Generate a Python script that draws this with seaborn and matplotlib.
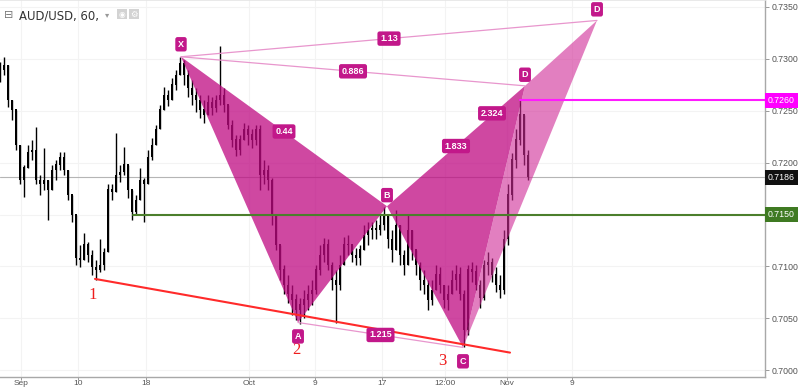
import numpy as np
import pandas as pd
import matplotlib
matplotlib.use("Agg")
import matplotlib.pyplot as plt
import seaborn as sns
from matplotlib.patches import Polygon, FancyBboxPatch

# ---------------- data ----------------
first_open = 0.7285
highs = [0.7297,0.7302,0.7275,0.7260,0.7246,0.7217,0.7198,0.7217,0.7222,0.7234,
         0.7188,0.7214,0.7183,0.7198,0.7203,0.7210,0.7210,0.7191,0.7169,0.7140,
         0.7121,0.7132,0.7124,0.7116,0.7106,0.7126,0.7118,0.7179,0.7179,0.7229,
         0.7198,0.7215,0.7191,0.7166,0.7169,0.7195,0.7185,0.7212,0.7224,0.7236,
         0.7256,0.7273,0.7270,0.7282,0.7289,0.7302,0.7299,0.7289,0.7280,0.7272,
         0.7265,0.7260,0.7265,0.7263,0.7265,0.7312,0.7272,0.7256,0.7241,0.7227,
         0.7227,0.7238,0.7236,0.7232,0.7236,0.7236,0.7203,0.7198,0.7185,0.7150,
         0.7121,0.7101,0.7092,0.7082,0.7073,0.7070,0.7077,0.7082,0.7087,0.7101,
         0.7121,0.7127,0.7126,0.7104,0.7097,0.7111,0.7128,0.7130,0.7121,0.7118,
         0.7121,0.7140,0.7143,0.7143,0.7145,0.7150,0.7157,0.7150,0.7135,0.7154,
         0.7130,0.7116,0.7151,0.7135,0.7116,0.7104,0.7097,0.7087,0.7087,0.7101,
         0.7099,0.7082,0.7082,0.7097,0.7101,0.7099,0.7077,0.7101,0.7104,0.7101,
         0.7087,0.7106,0.7114,0.7108,0.7099,0.7092,0.7135,0.7179,0.7209,0.7232,
         0.7260,0.7246,0.7212]
lows = [0.7278,0.7284,0.7254,0.7241,0.7212,0.7179,0.7167,0.7198,0.7203,0.7179,
        0.7169,0.7174,0.7145,0.7176,0.7183,0.7193,0.7188,0.7164,0.7143,0.7101,
        0.7099,0.7108,0.7104,0.7092,0.7087,0.7095,0.7097,0.7121,0.7164,0.7174,
        0.7181,0.7188,0.7166,0.7145,0.7150,0.7169,0.7143,0.7183,0.7203,0.7217,
        0.7233,0.7251,0.7255,0.7262,0.7270,0.7284,0.7275,0.7263,0.7256,0.7249,
        0.7243,0.7238,0.7246,0.7246,0.7249,0.7256,0.7249,0.7232,0.7215,0.7206,
        0.7207,0.7222,0.7217,0.7214,0.7217,0.7174,0.7179,0.7174,0.7140,0.7116,
        0.7087,0.7073,0.7065,0.7053,0.7048,0.7045,0.7050,0.7058,0.7063,0.7073,
        0.7092,0.7104,0.7097,0.7077,0.7046,0.7077,0.7104,0.7111,0.7104,0.7101,
        0.7101,0.7116,0.7121,0.7126,0.7126,0.7130,0.7135,0.7118,0.7104,0.7121,
        0.7101,0.7092,0.7116,0.7106,0.7092,0.7077,0.7073,0.7058,0.7063,0.7077,
        0.7074,0.7060,0.7058,0.7073,0.7077,0.7068,0.7022,0.7034,0.7085,0.7077,
        0.7060,0.7068,0.7092,0.7085,0.7075,0.7070,0.7073,0.7121,0.7164,0.7195,
        0.7217,0.7198,0.7183]
closes = [0.7289,0.7294,0.7260,0.7251,0.7217,0.7183,0.7195,0.7210,0.7212,0.7183,
          0.7179,0.7183,0.7174,0.7193,0.7198,0.7205,0.7193,0.7169,0.7150,0.7108,
          0.7106,0.7121,0.7111,0.7099,0.7097,0.7101,0.7114,0.7174,0.7172,0.7188,
          0.7191,0.7198,0.7174,0.7152,0.7164,0.7183,0.7179,0.7205,0.7217,0.7232,
          0.7251,0.7265,0.7260,0.7275,0.7284,0.7296,0.7284,0.7272,0.7265,0.7260,
          0.7251,0.7246,0.7258,0.7253,0.7260,0.7265,0.7256,0.7236,0.7222,0.7212,
          0.7222,0.7232,0.7227,0.7222,0.7232,0.7188,0.7193,0.7183,0.7150,0.7121,
          0.7097,0.7082,0.7073,0.7068,0.7058,0.7063,0.7068,0.7073,0.7077,0.7097,
          0.7111,0.7121,0.7101,0.7087,0.7082,0.7101,0.7121,0.7121,0.7111,0.7108,
          0.7116,0.7130,0.7135,0.7137,0.7135,0.7140,0.7150,0.7126,0.7116,0.7140,
          0.7111,0.7101,0.7135,0.7116,0.7101,0.7087,0.7082,0.7068,0.7077,0.7092,
          0.7082,0.7068,0.7073,0.7087,0.7092,0.7073,0.7039,0.7097,0.7095,0.7082,
          0.7070,0.7101,0.7104,0.7092,0.7082,0.7077,0.7126,0.7169,0.7203,0.7222,
          0.7246,0.7207,0.7186]

tick_pos = [5.25, 19.5, 36.5, 62.25, 78.75, 95.5, 111.25, 126.75, 143.0]
tick_labels = ["Sep", "10", "18", "Oct", "9", "17", "12:00", "Nov", "9"]
price_ticks = [0.7000, 0.7050, 0.7100, 0.7150, 0.7200, 0.7250, 0.7300, 0.7350]

pattern_names = ["X", "A", "B", "C", "D", "D"]
pattern_x = [45.25, 74.5, 96.75, 115.75, 131.25, 149.25]
pattern_y = [0.7302, 0.7046, 0.7158, 0.7022, 0.7274, 0.7337]
ratio_labels = ["0.44", "1.215", "1.833", "2.324", "0.886", "1.13"]
ratio_pairs = [(0, 2), (1, 3), (2, 4), (2, 5), (0, 4), (0, 5)]

trend_x = [23.75, 127.5]
trend_y = [0.7088, 0.7017]
wave_labels = ["1", "2", "3"]
wave_x = [23.25, 74.0, 110.5]
wave_y = [0.70725, 0.70195, 0.70090]

resist_level, resist_start = 0.7260, 130.0
support_level, support_start = 0.7150, 33.25
last_price = 0.7186

# ---------------- style ----------------
sns.set_theme(style="white")
plt.rcParams['font.family'] = ['Liberation Sans', 'DejaVu Sans']

W, H = 800, 391
fig = plt.figure(figsize=(W / 100, H / 100), dpi=100)
ax = fig.add_axes([0, 14 / H, 765 / W, 377 / H])
ax.set_xlim(0, 191.25)
ax.set_ylim(0.69935, 0.73567)

# grid
for tp in tick_pos:
    ax.axvline(tp, color="#f3f3f3", lw=0.8, zorder=0)
for pt in price_ticks:
    ax.axhline(pt, color="#f3f3f3", lw=0.8, zorder=0)

# last price line
ax.axhline(last_price, color="#b5b5b5", lw=0.8, zorder=1)

# candles
opens = np.r_[first_open, np.array(closes[:-1])]
cl = np.array(closes)
hi = np.maximum(np.array(highs), np.maximum(opens, cl))
lo = np.minimum(np.array(lows), np.minimum(opens, cl))
xs = np.arange(len(closes))
ax.vlines(xs, lo, hi, color="black", lw=1.0, zorder=2)
body_bot = np.minimum(opens, cl)
body_h = np.abs(cl - opens) + 0.00004
ax.bar(xs, body_h, bottom=body_bot, width=0.7, color="black", lw=0, zorder=2)

# pattern fills (semi transparent, over the candles)
FILL = "#bf0a82"
LIGHT = "#d02a96"
LINE = "#e896cd"
LABEL = "#c2188a"
P = list(zip(pattern_x, pattern_y))
for tri, col, a in [((0, 1, 2), FILL, 0.75), ((2, 3, 4), FILL, 0.75),
                    ((3, 4, 5), LIGHT, 0.6)]:
    ax.add_patch(Polygon([P[k] for k in tri], closed=True, facecolor=col,
                         edgecolor="none", alpha=a, zorder=3))

for (i, j) in [(0, 4), (0, 5), (1, 3)]:
    sns.lineplot(x=[pattern_x[i], pattern_x[j]], y=[pattern_y[i], pattern_y[j]],
                 ax=ax, color=LINE, lw=0.9, legend=False, zorder=3)

# levels
sns.lineplot(x=[support_start, 191.25], y=[support_level, support_level], ax=ax,
             color="#4b7f2c", lw=1.5, legend=False, zorder=5)
sns.lineplot(x=[resist_start, 191.25], y=[resist_level, resist_level], ax=ax,
             color="#ff1aff", lw=1.5, legend=False, zorder=5)

# trend line
sns.lineplot(x=trend_x, y=trend_y, ax=ax, color="#ff2a2a", lw=1.5,
             legend=False, zorder=5)
for t, x, y in zip(wave_labels, wave_x, wave_y):
    ax.text(x, y, t, color="#ee1c1c", fontsize=12, ha="center", va="center",
            family=["Liberation Serif", "DejaVu Serif"], zorder=6)

# pattern letters
offs = [9, -10, 8, -10, 8, 8]
for name, x, y, o in zip(pattern_names, pattern_x, pattern_y, offs):
    ax.annotate(name, (x, y), xytext=(0, o), textcoords="offset points",
                ha="center", va="center", color="white", fontsize=6.5,
                fontweight="bold", zorder=7,
                bbox=dict(boxstyle="round,pad=0.3,rounding_size=0.25",
                          fc=LABEL, ec="none"))

# ratio labels at midpoints
for lab, (i, j) in zip(ratio_labels, ratio_pairs):
    mx = (pattern_x[i] + pattern_x[j]) / 2
    my = (pattern_y[i] + pattern_y[j]) / 2
    ax.text(mx, my, lab, ha="center", va="center", color="white", fontsize=6.5,
            fontweight="bold", zorder=7,
            bbox=dict(boxstyle="round,pad=0.3,rounding_size=0.25",
                      fc=LABEL, ec="none"))

# axes
box_levels = [resist_level, last_price, support_level]
ax.yaxis.tick_right()
ax.set_yticks(price_ticks)
ax.set_yticklabels(["" if any(abs(p - b) < 1e-6 for b in box_levels)
                    else f"{p:.4f}" for p in price_ticks])
ax.set_xticks(tick_pos)
ax.set_xticklabels(tick_labels)
ax.tick_params(axis="y", which="both", right=True, length=3, width=0.7,
               color="#999999", labelsize=6.3, labelcolor="#555555", pad=2)
ax.tick_params(axis="x", which="both", bottom=True, length=2, width=0.7,
               color="#999999", labelsize=6, labelcolor="#555555", pad=0.5)
ax.spines["left"].set_visible(False)
ax.spines["top"].set_color("#e6e6e6")
ax.spines["right"].set_color("#a8a8a8")
ax.spines["bottom"].set_color("#a8a8a8")
ax.spines["right"].set_linewidth(1.0)
ax.spines["bottom"].set_linewidth(1.0)
ax.set_xlabel("")
ax.set_ylabel("")

# price boxes on axis
for val, col in [(resist_level, "#ff00ff"), (last_price, "#111111"),
                 (support_level, "#3f7a22")]:
    ax.annotate(f"{val:.4f}", xy=(1, val), xycoords=("axes fraction", "data"),
                xytext=(2, 0), textcoords="offset points", ha="left", va="center",
                fontsize=6.3, color="white", zorder=10, annotation_clip=False,
                bbox=dict(boxstyle="square,pad=0.35", fc=col, ec="none"))

# title & icons
fig.text(19 / W, 1 - 16 / H, "AUD/USD, 60,", fontsize=8.4, color="#333333",
         va="center", ha="left", family=["DejaVu Sans"])
fig.text(9 / W, 1 - 15 / H, "⊟", fontsize=8, color="#777777", va="center",
         ha="center", family=["DejaVu Sans"])
fig.text(107 / W, 1 - 15 / H, "▾", fontsize=6, color="#999999", va="center",
         ha="center", family=["DejaVu Sans"])
for x0 in [117, 129]:
    fig.patches.append(FancyBboxPatch((x0 / W, 1 - 19 / H), 10 / W, 10 / H,
                                      boxstyle="square,pad=0", fc="#d3d3d3",
                                      ec="none", transform=fig.transFigure))
fig.text(122 / W, 1 - 14 / H, "◉", fontsize=5.5, color="white", va="center",
         ha="center", family=["DejaVu Sans"])
fig.text(134 / W, 1 - 14 / H, "⚙", fontsize=6, color="white", va="center",
         ha="center", family=["DejaVu Sans"])

fig.savefig("out.png", dpi=100)
